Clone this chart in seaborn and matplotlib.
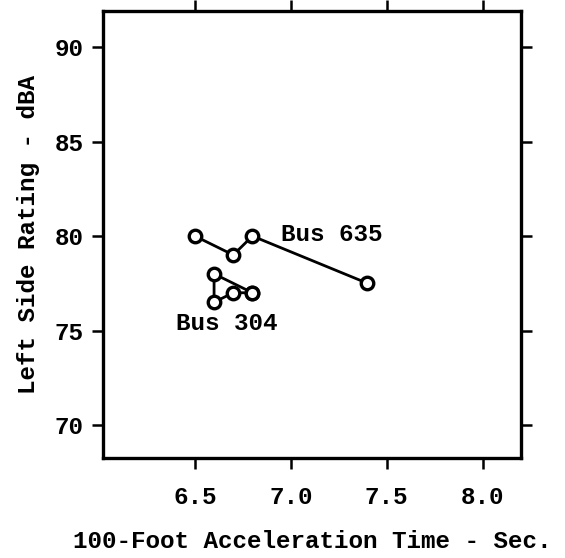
import matplotlib
matplotlib.use("Agg")
import matplotlib.pyplot as plt
import seaborn as sns
import pandas as pd

bus635_x = [6.5, 6.7, 6.8, 7.4]
bus635_y = [80.0, 79.0, 80.0, 77.5]
bus304_x = [6.8, 6.6, 6.6, 6.7, 6.8]
bus304_y = [77.0, 78.0, 76.5, 77.0, 77.0]
x_ticks = [6.5, 7.0, 7.5, 8.0]
x_tick_labels = ["6.5", "7.0", "7.5", "8.0"]
y_ticks = [70, 75, 80, 85, 90]
y_tick_labels = ["70", "75", "80", "85", "90"]
labels = ["Bus 635", "Bus 304"]

sns.set_theme(style="white")
plt.rcParams['font.family'] = ['Liberation Mono', 'DejaVu Sans Mono']
plt.rcParams['font.weight'] = 'bold'
plt.rcParams['axes.labelweight'] = 'bold'
plt.rcParams['text.color'] = 'black'
plt.rcParams['axes.labelcolor'] = 'black'

FS = 17.5
fig = plt.figure(figsize=(5.65, 5.58), dpi=100)
ax = fig.add_axes([0.182, 0.179, 0.740, 0.801])

df635 = pd.DataFrame({"x": bus635_x, "y": bus635_y})
df304 = pd.DataFrame({"x": bus304_x, "y": bus304_y})
style = dict(color="black", linewidth=2.0, marker="o", markersize=9,
             markerfacecolor="white", markeredgecolor="black",
             markeredgewidth=2.4, estimator=None, sort=False)
sns.lineplot(data=df635, x="x", y="y", ax=ax, **style)
sns.lineplot(data=df304, x="x", y="y", ax=ax, **style)

ax.text(6.95, 80.1, labels[0], fontsize=FS, ha="left", va="center",
        color="black", fontweight="bold")
ax.text(6.40, 75.35, labels[1], fontsize=FS, ha="left", va="center",
        color="black", fontweight="bold")

ax.set_xlim(6.02, 8.2)
ax.set_ylim(68.25, 91.9)
ax.set_xticks(x_ticks)
ax.set_xticklabels(x_tick_labels)
ax.set_yticks(y_ticks)
ax.set_yticklabels(y_tick_labels)
ax.set_xlabel("100-Foot Acceleration Time - Sec.", fontsize=FS, labelpad=15,
              color="black", fontweight="bold")
ax.set_ylabel("Left Side Rating - dBA", fontsize=FS, labelpad=10,
              color="black", fontweight="bold")

for s in ax.spines.values():
    s.set_visible(True)
    s.set_color("black")
    s.set_linewidth(2.4)
ax.tick_params(axis="both", which="both", direction="out", length=8, width=1.8,
               color="black", labelsize=FS, labelcolor="black",
               top=True, right=True, bottom=True, left=True,
               labeltop=False, labelright=False)
ax.tick_params(axis="x", pad=12)
ax.tick_params(axis="y", pad=6)
ax.grid(False)

fig.savefig("out.png", dpi=100)
